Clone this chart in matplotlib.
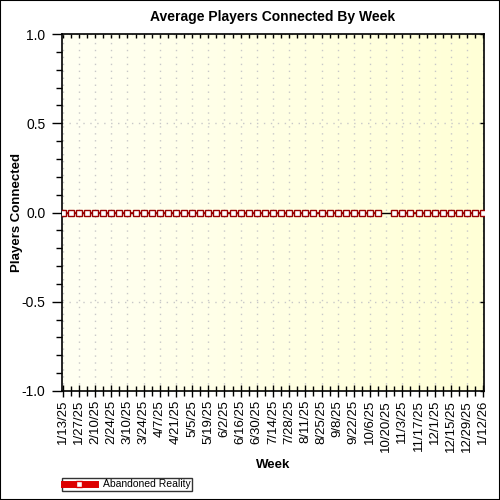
import numpy as np
import matplotlib.pyplot as plt
from matplotlib.ticker import MultipleLocator, FixedLocator
from matplotlib.patches import Rectangle
from matplotlib.lines import Line2D

# ====================== DATA ======================
weeks = [
    "1/13/25", "1/20/25", "1/27/25", "2/3/25", "2/10/25", "2/17/25", "2/24/25",
    "3/3/25", "3/10/25", "3/17/25", "3/24/25", "3/31/25", "4/7/25", "4/14/25",
    "4/21/25", "4/28/25", "5/5/25", "5/12/25", "5/19/25", "5/26/25", "6/2/25",
    "6/9/25", "6/16/25", "6/23/25", "6/30/25", "7/7/25", "7/14/25", "7/21/25",
    "7/28/25", "8/4/25", "8/11/25", "8/18/25", "8/25/25", "9/1/25", "9/8/25",
    "9/15/25", "9/22/25", "9/29/25", "10/6/25", "10/13/25", "10/20/25",
    "10/27/25", "11/3/25", "11/10/25", "11/17/25", "11/24/25", "12/1/25",
    "12/8/25", "12/15/25", "12/22/25", "12/29/25", "1/5/26", "1/12/26",
]
players = [0.0] * 40 + [np.nan] + [0.0] * 12
series_name = "Abandoned Reality"

FONT = ["Liberation Sans", "DejaVu Sans"]
plt.rcParams['font.family'] = FONT

# ====================== PLOT ======================
fig = plt.figure(figsize=(5, 5), dpi=100)
L, R, T, B = 62, 484, 34, 391
ax = fig.add_axes([L / 500, 1 - B / 500, (R - L) / 500, (B - T) / 500])
H = B - T

x = np.arange(len(weeks))
ax.set_xlim(x[0] - 0.1, x[-1] + 0.1)
ax.set_ylim(-1.0, 1.0)

# yellow gradient background
grad = np.linspace(0, 1, 256).reshape(1, -1)
c0 = np.array([1.0, 1.0, 0.95])
c1 = np.array([1.0, 1.0, 0.84])
img = c0[None, None, :] * (1 - grad[..., None]) + c1[None, None, :] * grad[..., None]
ax.imshow(img, extent=[x[0] - 0.1, x[-1] + 0.1, -1.0, 1.0], aspect='auto', zorder=0)

ax.axhline(0, color='black', lw=1.0, zorder=2)
ax.plot(x, players, color='#aa0000', lw=1.2, marker='s', ms=4.8,
        mfc='white', mec='#990000', mew=1.0, zorder=3)

# ticks
ax.xaxis.set_major_locator(FixedLocator(x[::2]))
ax.xaxis.set_minor_locator(FixedLocator(x))
ax.set_xticklabels(weeks[::2], rotation=90, fontsize=9.5)
ax.yaxis.set_major_locator(MultipleLocator(0.5))
ax.yaxis.set_minor_locator(MultipleLocator(0.1))
ax.set_yticklabels([f"{v:.1f}" for v in ax.get_yticks()], fontsize=10)

ax.tick_params(axis='x', which='major', direction='inout', length=9, width=1, pad=2)
ax.tick_params(axis='x', which='minor', direction='inout', length=7, width=1)
ax.tick_params(axis='y', which='major', direction='out', length=7, width=1, pad=5)
ax.tick_params(axis='y', which='minor', direction='out', length=4, width=1)
ax.tick_params(top=True, right=True, which='both')
for t in ax.xaxis.get_major_ticks() + ax.xaxis.get_minor_ticks():
    t.tick2line.set_markersize(3)
    t.tick2line.set_marker(3)
for t in ax.yaxis.get_major_ticks() + ax.yaxis.get_minor_ticks():
    t.tick2line.set_markersize(3)
    t.tick2line.set_marker(0)
for t in ax.yaxis.get_minor_ticks():
    t.tick2line.set_visible(False)

ax.grid(True, which='major', color='#c8c8c8', linestyle=(0, (1, 4)), lw=1, zorder=1)
for s in ax.spines.values():
    s.set_linewidth(1.2)

ax.set_title("Average Players Connected By Week", fontsize=10, fontweight='bold',
             y=(B - 17) / H, va='center', pad=0)
ax.set_ylabel("Players Connected", fontsize=9.5, fontweight='bold', va='center')
ax.yaxis.set_label_coords((17 - L) / (R - L), 0.5)
ax.set_xlabel("Week", fontsize=9.5, fontweight='bold', va='center')
ax.xaxis.set_label_coords(0.5, (B - 465) / H)

handle = Line2D([], [], color='#dd0000', lw=5, marker='s', ms=5,
                mfc='white', mec='#dd0000')
fig.legend([handle], [series_name], loc='lower left',
           bbox_to_anchor=(L / 500, 9 / 500), fontsize=7.5, frameon=True,
           fancybox=False, edgecolor='black', borderpad=0.15,
           handlelength=3, handletextpad=0.8, borderaxespad=0)

fig.patches.append(Rectangle((0, 0), 1, 1, transform=fig.transFigure,
                             fill=False, edgecolor='black', lw=1.5))

plt.savefig('out.png', dpi=100)
